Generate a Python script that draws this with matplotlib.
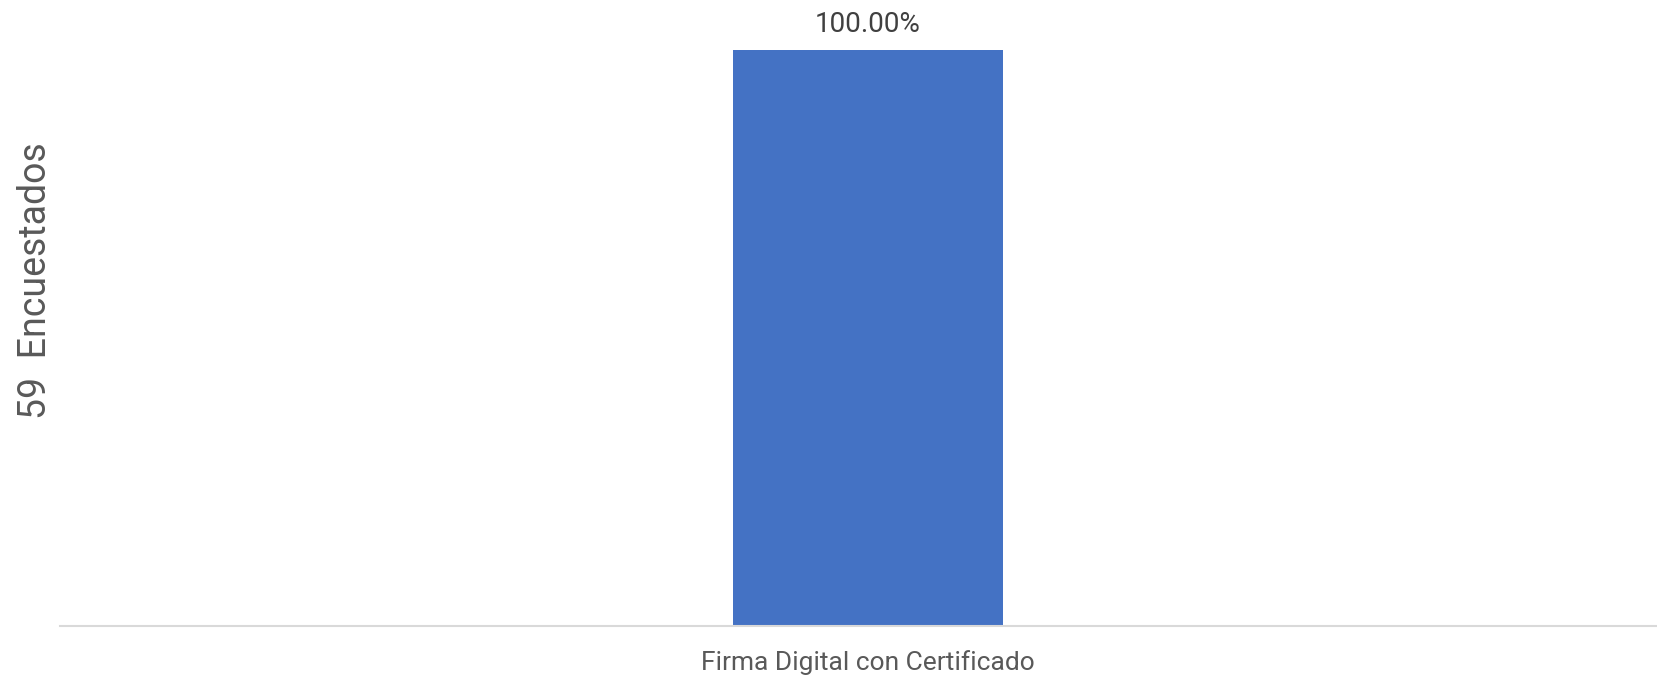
import matplotlib
matplotlib.use("Agg")
import matplotlib.pyplot as plt

# data
categorias = ["Firma Digital con Certificado"]
porcentajes = [100.0]
etiqueta_y = "59  Encuestados"

plt.rcParams['font.family'] = ['Roboto', 'DejaVu Sans']

fig = plt.figure(figsize=(16.58, 6.77), dpi=100)
ax = fig.add_axes([60 / 1658, 51 / 677, 1616 / 1658, 576 / 677])

x = range(len(categorias))
bars = ax.bar(x, porcentajes, width=0.167, color="#4472C4")
for b, v in zip(bars, porcentajes):
    ax.annotate(f"{v:.2f}%", (b.get_x() + b.get_width() / 2, v),
                xytext=(0, 9), textcoords="offset points",
                ha="center", va="bottom", fontsize=20, color="#404040",
                annotation_clip=False)

ax.set_xlim(-0.5, 0.5)
ax.set_ylim(0, 100)
ax.set_xticks(list(x))
ax.set_xticklabels(categorias, fontsize=19, color="#595959")
ax.tick_params(axis="x", length=0, pad=17)
ax.set_yticks([])
for s in ["top", "right", "left"]:
    ax.spines[s].set_visible(False)
ax.spines["bottom"].set_color("#D9D9D9")
ax.spines["bottom"].set_linewidth(1.5)

fig.text(36 / 1658, 0.585, etiqueta_y, rotation=90, fontsize=27,
         color="#595959", ha="center", va="center")

fig.savefig("out.png", dpi=100)
